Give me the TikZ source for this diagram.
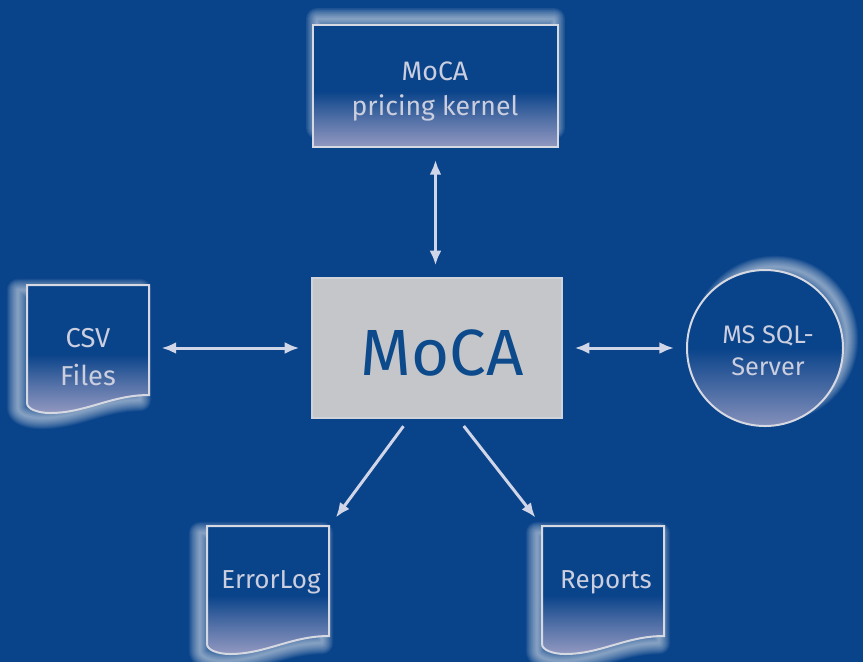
\documentclass[tikz,border=0pt]{standalone}
\usepackage{fontspec}
\setmainfont{Fira Sans}
\usetikzlibrary{arrows.meta}
\definecolor{bg}{RGB}{9,67,138}
\definecolor{lav}{RGB}{146,152,192}
\definecolor{edgec}{RGB}{214,216,226}
\definecolor{txt}{RGB}{202,206,222}
\definecolor{arrc}{RGB}{208,214,232}
\definecolor{boxgray}{RGB}{197,198,202}
\definecolor{mocablue}{RGB}{12,74,140}
\pgfdeclareverticalshading{docsh}{100bp}{color(0bp)=(lav); color(25bp)=(lav); color(36bp)=(lav!55!bg); color(48bp)=(bg); color(100bp)=(bg)}
\pgfdeclareverticalshading{circsh}{100bp}{color(0bp)=(lav); color(25bp)=(lav!90!bg); color(36bp)=(lav!50!bg); color(50bp)=(bg); color(100bp)=(bg)}
\newcommand\glowpath[2]{\foreach \w in {1,2,...,17}{\path[glowline, line width=\w pt, #1] #2;}}
\newcommand\docshape{(0,0) -- (122,0) -- (122,110) .. controls (84,110) and (59,128) .. (23,128) .. controls (11,128) and (0,124) .. (0,118) -- cycle}
\tikzset{
  glowline/.style={draw=white, line join=round, opacity=0.045},
  shapeedge/.style={draw=edgec, line width=1.5pt},
  tipA/.tip={Latex[length=11pt,width=9pt]},
  arr/.style={draw=arrc, line width=2.25pt, tipA-tipA},
  arrone/.style={draw=arrc, line width=2.25pt, -tipA},
  lbl/.style={text=txt, font=\fontsize{19.5}{22}\selectfont, anchor=base, inner sep=0pt},
  docnode/.style={minimum width=91.5pt, minimum height=82.5pt, inner sep=0pt, anchor=north west},
}
\begin{document}
\begin{tikzpicture}[x=0.75pt, y=-0.75pt]
\useasboundingbox (0,0) rectangle (863,662);
\fill[bg] (0,0) rectangle (863,662);

% top box
\glowpath{}{(317,19) rectangle (554,128)}
\node[shapeedge, shade, shading=docsh, minimum width=183.75pt, minimum height=91.5pt, inner sep=0pt] (kernel) at (435.5,86) {};
\node[lbl, font=\fontsize{20}{22}\selectfont] (kernelA) at (435,80) {MoCA};
\node[lbl, font=\fontsize{20}{22}\selectfont] (kernelB) at (435,115) {pricing kernel};

% center box
\node[draw=edgec!70!boxgray, line width=1pt, fill=boxgray, minimum width=187.5pt, minimum height=105pt, inner sep=0pt] (moca) at (437,348) {};
\node[text=mocablue, font=\fontsize{49}{52}\selectfont, anchor=base, inner sep=0pt] (mocatxt) at (442,375) {MoCA};

% CSV
\begin{scope}[shift={(27,285)}]
\glowpath{shift={(-9,5)}}{\docshape}
\path[shapeedge, shade, shading=docsh] \docshape;
\node[docnode] (csv) at (0,0) {};
\node[lbl, font=\fontsize{20.5}{22}\selectfont] (csvA) at (61,347-285) {CSV};
\node[lbl, font=\fontsize{20.5}{22}\selectfont] (csvB) at (61,385-285) {Files};
\end{scope}

% ErrorLog
\begin{scope}[shift={(207,526)}]
\glowpath{shift={(-7,7)}}{\docshape}
\path[shapeedge, shade, shading=docsh] \docshape;
\node[docnode] (errlog) at (0,0) {};
\node[lbl] (errlogtxt) at (64,588-526) {ErrorLog};
\end{scope}

% Reports
\begin{scope}[shift={(542,526)}]
\glowpath{shift={(-5,7)}}{\docshape}
\path[shapeedge, shade, shading=docsh] \docshape;
\node[docnode] (reports) at (0,0) {};
\node[lbl] (reportstxt) at (64,588-526) {Reports};
\end{scope}

% SQL server
\glowpath{}{(775,339) circle[radius=72]}
\node[circle, shapeedge, shade, shading=circsh, minimum size=117pt, inner sep=0pt] (sql) at (765,348) {};
\node[lbl, font=\fontsize{19}{22}\selectfont] (sqlA) at (768,343) {MS SQL-};
\node[lbl, font=\fontsize{19}{22}\selectfont] (sqlB) at (768,375) {Server};

% connectors
\draw[arr, shorten <=9pt, shorten >=9pt] (kernel.south) -- (kernel.south |- moca.north);
\draw[arr, shorten <=9pt, shorten >=9pt] (moca.west -| csv.east) -- (moca.west);
\draw[arr, shorten <=9pt, shorten >=9pt] (moca.east) -- (moca.east -| sql.west);
\draw[arrone, shorten <=7pt, shorten >=8pt] ([xshift=-21pt]moca.south) -- (errlog.north east);
\draw[arrone, shorten <=7pt, shorten >=8pt] ([xshift=15.75pt]moca.south) -- (reports.north west);
\end{tikzpicture}
\end{document}
